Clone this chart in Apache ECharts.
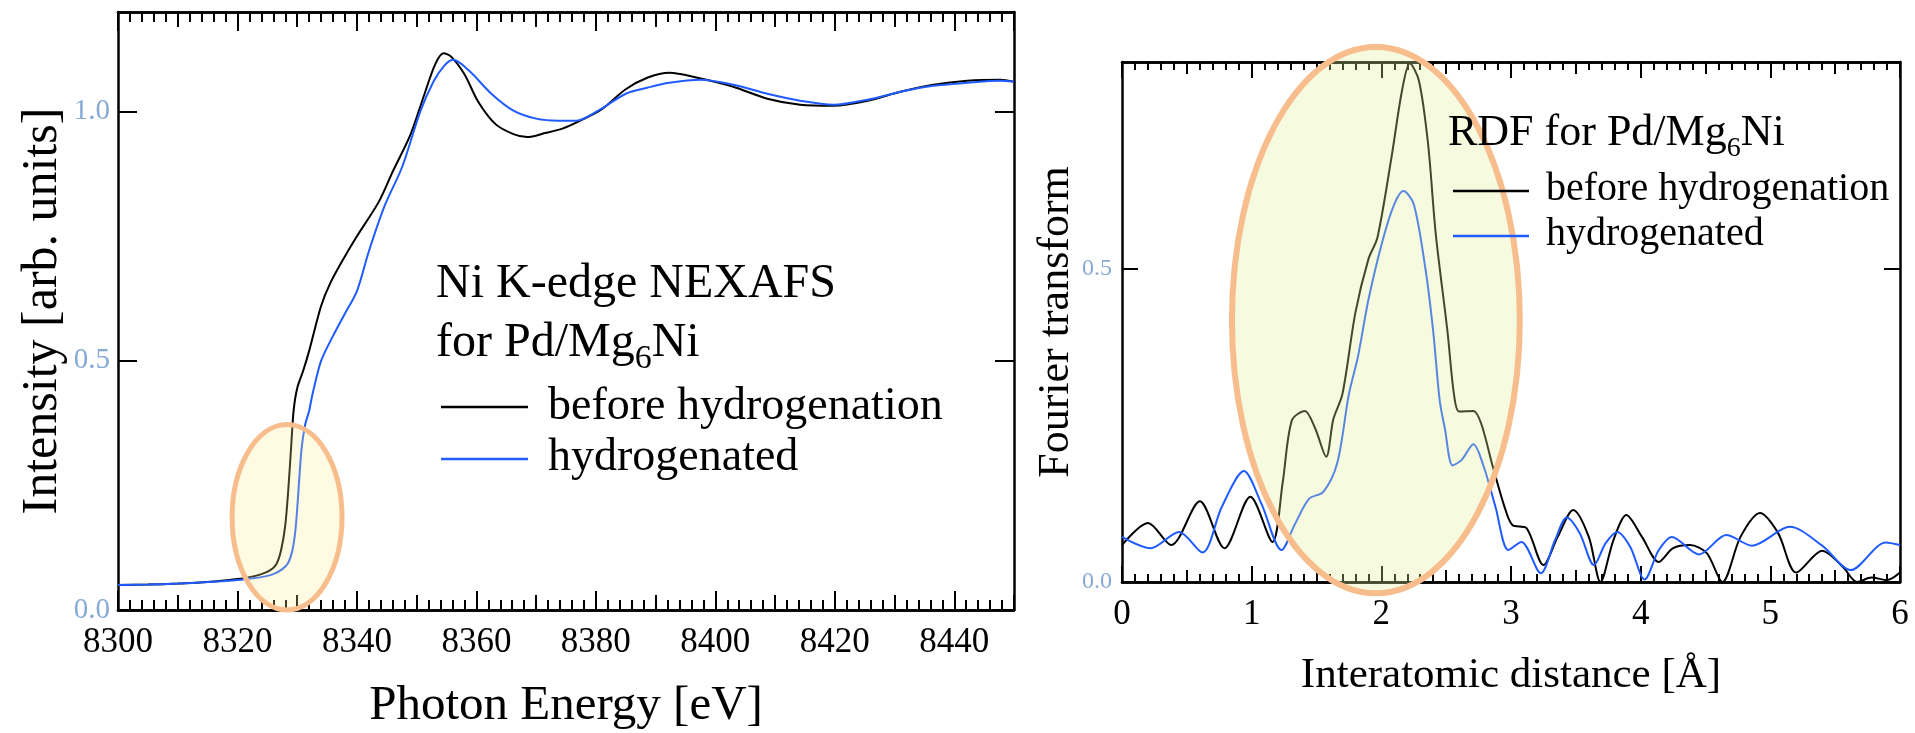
<!DOCTYPE html>
<html>
<head>
<meta charset="utf-8">
<title>Ni K-edge NEXAFS / RDF for Pd/Mg6Ni</title>
<script src="https://cdn.jsdelivr.net/npm/echarts@6/dist/echarts.min.js"></script>
<style>
  html, body { margin: 0; padding: 0; background: #fff; }
  #chart { width: 1915px; height: 733px; }
</style>
</head>
<body>
<div id="chart"></div>
<script>
// NEXAFS spectra (left panel), photon energy in eV
const nexafsEnergyBefore = [8300, 8305, 8310, 8315, 8320, 8322, 8324, 8325.5, 8326.5, 8327.3, 8328, 8328.5, 8329, 8329.4, 8330, 8331, 8332, 8334, 8335.5, 8338, 8340, 8343.7, 8346, 8349, 8351.3, 8353.1, 8354.5, 8355.8, 8358, 8360.3, 8363.2, 8366.2, 8368.5, 8371.5, 8374.4, 8377.4, 8381, 8385, 8388.6, 8392.3, 8397, 8403, 8408.7, 8414.2, 8419.8, 8425.5, 8431, 8436.5, 8442.2, 8447.7, 8450]
const nexafsBefore = [0.050, 0.051, 0.053, 0.056, 0.062, 0.066, 0.072, 0.080, 0.092, 0.12, 0.17, 0.24, 0.33, 0.40, 0.445, 0.48, 0.52, 0.61, 0.655, 0.71, 0.75, 0.82, 0.88, 0.955, 1.035, 1.095, 1.117, 1.11, 1.075, 1.02, 0.975, 0.955, 0.949, 0.957, 0.966, 0.982, 1.005, 1.045, 1.068, 1.078, 1.068, 1.05, 1.026, 1.014, 1.012, 1.022, 1.04, 1.054, 1.062, 1.064, 1.06]

const nexafsEnergyHyd = [8300, 8305, 8310, 8315, 8320, 8322, 8324, 8326, 8327.5, 8328.5, 8329.2, 8329.7, 8330.1, 8330.7, 8331.3, 8332, 8332.6, 8334, 8336, 8338, 8340, 8342, 8344.6, 8347.6, 8350.6, 8352.8, 8354.6, 8356.1, 8358.8, 8362.5, 8366.2, 8370, 8373.7, 8376.7, 8380.4, 8385, 8388.6, 8392.3, 8397.5, 8403, 8408.7, 8414.2, 8419.8, 8425.5, 8431, 8436.5, 8442.2, 8447.7, 8450]
const nexafsHyd = [0.050, 0.051, 0.053, 0.056, 0.060, 0.063, 0.066, 0.072, 0.082, 0.095, 0.12, 0.16, 0.22, 0.32, 0.37, 0.40, 0.435, 0.50, 0.55, 0.595, 0.64, 0.72, 0.81, 0.89, 1.0, 1.06, 1.092, 1.104, 1.082, 1.036, 1.002, 0.986, 0.982, 0.982, 1.002, 1.036, 1.048, 1.058, 1.064, 1.054, 1.036, 1.022, 1.014, 1.024, 1.04, 1.052, 1.058, 1.062, 1.06]

// Fourier transform (right panel), interatomic distance in Angstrom
const rdfDistBefore = [0.00, 0.20, 0.38, 0.60, 0.79, 0.99, 1.16, 1.24, 1.31, 1.41, 1.49, 1.575, 1.63, 1.70, 1.80, 1.90, 1.97, 2.08, 2.16, 2.22, 2.29, 2.36, 2.42, 2.51, 2.56, 2.60, 2.71, 2.77, 2.86, 2.95, 3.01, 3.12, 3.25, 3.36, 3.48, 3.60, 3.69, 3.79, 3.89, 4.01, 4.14, 4.25, 4.38, 4.51, 4.63, 4.77, 4.92, 5.06, 5.20, 5.40, 5.56, 5.67, 5.78, 5.90, 6.00]
const rdfBefore = [0.059, 0.094, 0.059, 0.129, 0.054, 0.136, 0.064, 0.16, 0.258, 0.273, 0.245, 0.20, 0.26, 0.30, 0.43, 0.515, 0.55, 0.68, 0.785, 0.828, 0.80, 0.70, 0.555, 0.40, 0.30, 0.272, 0.273, 0.253, 0.184, 0.12, 0.091, 0.086, 0.027, 0.072, 0.115, 0.072, 0.0, 0.067, 0.107, 0.072, 0.032, 0.054, 0.059, 0.046, 0.0, 0.072, 0.11, 0.078, 0.015, 0.05, 0.024, 0.0, 0.007, 0.003, 0.015]

const rdfDistHyd = [0.00, 0.22, 0.44, 0.62, 0.77, 0.94, 1.075, 1.23, 1.335, 1.444, 1.553, 1.66, 1.75, 1.82, 1.90, 2.01, 2.10, 2.17, 2.25, 2.34, 2.40, 2.45, 2.49, 2.55, 2.62, 2.71, 2.79, 2.88, 2.98, 3.08, 3.23, 3.34, 3.43, 3.53, 3.64, 3.73, 3.82, 3.92, 4.03, 4.14, 4.24, 4.45, 4.66, 4.86, 5.15, 5.40, 5.62, 5.89, 6.00]
const rdfHyd = [0.072, 0.054, 0.080, 0.047, 0.12, 0.177, 0.125, 0.051, 0.093, 0.133, 0.144, 0.19, 0.30, 0.36, 0.45, 0.545, 0.603, 0.624, 0.603, 0.50, 0.40, 0.29, 0.245, 0.186, 0.195, 0.22, 0.184, 0.12, 0.051, 0.064, 0.014, 0.067, 0.103, 0.078, 0.027, 0.062, 0.080, 0.056, 0.004, 0.051, 0.072, 0.044, 0.075, 0.058, 0.088, 0.058, 0.019, 0.063, 0.059]

const seriesNames = ['before hydrogenation', 'hydrogenated']
const lineColors = ['#000000', '#1f5bff']

// highlighted regions: [centre x, centre y, radius x, radius y] in data units
const edgeRegion = [8328.3, 0.186, 9.2, 0.186]
const peakRegion = [1.958, 0.418, 1.11, 0.436]

const serif = 'Liberation Serif'
const frame = { color: '#000', width: 2.5 }

const pairs = (xs, ys) => xs.map((x, i) => [x, ys[i]])

// one axis of a pair: the "major" one carries labels, the "mid" one carries the minor ticks
const makeX = (gridIndex, position, min, max, interval, tickLen, minorLen, opts) => Object.assign({
  type: 'value',
  gridIndex,
  position,
  min,
  max,
  interval,
  axisLine: { show: true, onZero: false, lineStyle: frame },
  axisTick: { show: true, inside: true, length: tickLen, lineStyle: { color: '#000', width: 2 } },
  minorTick: { show: minorLen > 0, splitNumber: 5, length: minorLen, lineStyle: { color: '#000', width: 2 } },
  axisLabel: { show: false },
  splitLine: { show: false },
  minorSplitLine: { show: false }
}, opts || {})

const makeY = (gridIndex, position, max, tickLen, opts) => Object.assign({
  type: 'value',
  gridIndex,
  position,
  min: 0,
  max,
  interval: 0.5,
  axisLine: { show: true, onZero: false, lineStyle: frame },
  axisTick: { show: true, inside: true, length: tickLen, lineStyle: { color: '#000', width: 2 } },
  axisLabel: { show: false },
  splitLine: { show: false }
}, opts || {})

const tickFont = { fontFamily: serif, fontSize: 35, color: '#000', formatter: v => String(v) }

const option = {
  backgroundColor: '#fff',
  animation: false,
  textStyle: { fontFamily: serif },
  grid: [
    { left: 118, top: 12, width: 896, height: 598, containLabel: false, outerBoundsMode: 'none' },
    { left: 1122, top: 62, width: 778, height: 520, containLabel: false, outerBoundsMode: 'none' }
  ],
  xAxis: [
    makeX(0, 'bottom', 8300, 8450, 20, 19, 0, {
      axisLabel: Object.assign({ show: true, margin: 15, showMaxLabel: false }, tickFont),
      name: 'Photon Energy [eV]',
      nameLocation: 'middle',
      nameGap: 72,
      nameTextStyle: { fontFamily: serif, fontSize: 49, color: '#000' }
    }),
    makeX(0, 'bottom', 8300, 8450, 10, 15, 10),
    makeX(0, 'top', 8300, 8450, 20, 19, 0),
    makeX(0, 'top', 8300, 8450, 10, 15, 10),
    makeX(1, 'bottom', 0, 6, 1, 16, 0, {
      axisLabel: Object.assign({ show: true, margin: 15 }, tickFont),
      name: 'Interatomic distance [Å]',
      nameLocation: 'middle',
      nameGap: 72,
      nameTextStyle: { fontFamily: serif, fontSize: 43, color: '#000' }
    }),
    makeX(1, 'bottom', 0, 6, 0.5, 12, 8),
    makeX(1, 'top', 0, 6, 1, 16, 0),
    makeX(1, 'top', 0, 6, 0.5, 12, 8)
  ],
  yAxis: [
    makeY(0, 'left', 1.2, 19, {
      axisLabel: { show: true, margin: 8, showMaxLabel: false, fontFamily: serif, fontSize: 29, color: '#86a9d6', formatter: v => v.toFixed(1) },
      name: 'Intensity [arb. units]',
      nameLocation: 'middle',
      nameGap: 50,
      nameTextStyle: { fontFamily: serif, fontSize: 50, color: '#000' }
    }),
    makeY(0, 'right', 1.2, 19),
    makeY(1, 'left', 0.83, 16, {
      axisLabel: { show: true, margin: 10, showMaxLabel: false, fontFamily: serif, fontSize: 24, color: '#86a9d6', formatter: v => v.toFixed(1) },
      name: 'Fourier transform',
      nameLocation: 'middle',
      nameGap: 40,
      nameTextStyle: { fontFamily: serif, fontSize: 44, color: '#000' }
    }),
    makeY(1, 'right', 0.83, 16)
  ],
  series: [
    { name: seriesNames[0], data: pairs(nexafsEnergyBefore, nexafsBefore), xAxisIndex: 0, yAxisIndex: 0, color: lineColors[0] },
    { name: seriesNames[1], data: pairs(nexafsEnergyHyd, nexafsHyd), xAxisIndex: 0, yAxisIndex: 0, color: lineColors[1] },
    { name: seriesNames[0], data: pairs(rdfDistBefore, rdfBefore), xAxisIndex: 4, yAxisIndex: 2, color: lineColors[0] },
    { name: seriesNames[1], data: pairs(rdfDistHyd, rdfHyd), xAxisIndex: 4, yAxisIndex: 2, color: lineColors[1] }
  ].map(s => Object.assign({
    type: 'line',
    showSymbol: false,
    smooth: 0.3,
    clip: true,
    lineStyle: { width: 2, color: s.color },
    itemStyle: { color: s.color }
  }, s))
}

const chart = echarts.init(document.getElementById('chart'), null, { renderer: 'canvas' })
chart.setOption(option)

// ellipse from data units into pixels
const ellipse = (seriesIndex, r, lineWidth, fill) => {
  const c = chart.convertToPixel({ seriesIndex }, [r[0], r[1]])
  const e = chart.convertToPixel({ seriesIndex }, [r[0] + r[2], r[1] + r[3]])
  return {
    type: 'ellipse',
    z: 100,
    shape: { cx: c[0], cy: c[1], rx: Math.abs(e[0] - c[0]), ry: Math.abs(c[1] - e[1]) },
    style: { fill, stroke: '#f7bd8c', lineWidth }
  }
}

const text = (str, x, y, size, rich) => ({
  type: 'text',
  z: 120,
  x,
  y,
  style: { text: str, fontFamily: serif, fontSize: size, fill: '#000', align: 'left', verticalAlign: 'middle', rich }
})

const key = (x1, x2, y, color) => ({
  type: 'line',
  z: 120,
  shape: { x1, y1: y, x2, y2: y },
  style: { stroke: color, lineWidth: 2.5 }
})

const formula = (main, sub, lh, subLh) => ({
  a: { fontFamily: serif, fontSize: main, lineHeight: lh, fill: '#000' },
  s: { fontFamily: serif, fontSize: sub, lineHeight: subLh, verticalAlign: 'bottom', fill: '#000' }
})

chart.setOption({
  graphic: [
    ellipse(0, edgeRegion, 5, 'rgba(250, 240, 140, 0.25)'),
    ellipse(2, peakRegion, 6, 'rgba(225, 240, 150, 0.3)'),

    text('Ni K-edge NEXAFS', 436, 284, 48),
    text('{a|for Pd/Mg}{s|6}{a|Ni}', 436, 343, 48, formula(48, 34, 66, 32)),
    key(441, 528, 407, lineColors[0]),
    text(seriesNames[0], 548, 407, 46),
    key(441, 528, 459, lineColors[1]),
    text(seriesNames[1], 548, 458, 46),

    text('{a|RDF for Pd/Mg}{s|6}{a|Ni}', 1448, 133, 44, formula(44, 28, 60, 26)),
    key(1453, 1529, 191, lineColors[0]),
    text(seriesNames[0], 1546, 189, 40),
    key(1453, 1529, 236, lineColors[1]),
    text(seriesNames[1], 1546, 234, 40)
  ]
})

window.addEventListener('resize', () => chart.resize())
</script>
</body>
</html>
